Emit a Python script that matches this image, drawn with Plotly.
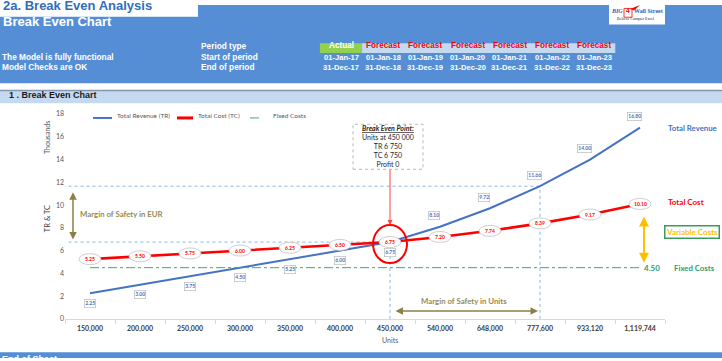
import plotly.graph_objects as go

# ---------------- data ----------------
units = ["150,000", "200,000", "250,000", "300,000", "350,000", "400,000",
         "450,000", "540,000", "648,000", "777,600", "933,120", "1,119,744"]
total_revenue = [2.25, 3.00, 3.75, 4.50, 5.25, 6.00, 6.75, 8.10, 9.72, 11.66, 14.00, 16.80]
total_cost = [5.25, 5.50, 5.75, 6.00, 6.25, 6.50, 6.75, 7.20, 7.74, 8.39, 9.17, 10.10]
fixed_costs = [4.50, 4.50, 4.50, 4.50, 4.50, 4.50, 4.50, 4.50, 4.50, 4.50, 4.50, 4.50]
y_ticks = [0, 2, 4, 6, 8, 10, 12, 14, 16, 18]
break_even_index = 6
safety_index = 9
break_even_lines = ["Units at 450 000", "TR 6 750", "TC 6 750", "Profit 0"]

period_types = ["Actual", "Forecast", "Forecast", "Forecast", "Forecast", "Forecast", "Forecast"]
start_dates = ["01-Jan-17", "01-Jan-18", "01-Jan-19", "01-Jan-20", "01-Jan-21", "01-Jan-22", "01-Jan-23"]
end_dates = ["31-Dec-17", "31-Dec-18", "31-Dec-19", "31-Dec-20", "31-Dec-21", "31-Dec-22", "31-Dec-23"]

# ---------------- styles ----------------
W, H = 722, 361
X_L, X_R = 65, 665
Y_T, Y_B = 111.5, 321
HEADER_BLUE = "#558ED5"
BLUE = "#4472C4"
RED = "#FF0000"
GREEN = "#2E9E6A"
OLIVE = "#948A54"
GOLD = "#FFC000"
REF_BLUE = "#8DB4E2"
CF = "Lato"
AF = "Liberation Sans"
TDY = 2.5  # visual correction for horizontally written text


def PX(x):
    return x / W


def PY(y):
    return 1 - y / H


def PT(y, d=TDY):
    return PY(y - d)


fig = go.Figure()
fig.add_trace(go.Scatter(x=units, y=total_revenue, mode="lines", name="Total Revenue (TR)",
                         line=dict(color=BLUE, width=2)))
fig.add_trace(go.Scatter(x=units, y=total_cost, mode="lines", name="Total Cost (TC)",
                         line=dict(color=RED, width=2.6)))
fig.add_trace(go.Scatter(x=units, y=fixed_costs, mode="lines", name="Fixed Costs",
                         line=dict(color="#3BAA7E", width=1, dash="dashdot")))

shapes = []
ann = []

# ---------- header background ----------
shapes.append(dict(type="rect", xref="paper", yref="paper", x0=0, x1=1, y0=PY(80), y1=1,
                   fillcolor=HEADER_BLUE, line_width=0, layer="below"))
shapes.append(dict(type="rect", xref="paper", yref="paper", x0=0, x1=PX(198), y0=PY(12), y1=1,
                   fillcolor="white", line_width=0, layer="below"))
shapes.append(dict(type="rect", xref="paper", yref="paper", x0=0, x1=1, y0=PY(100.5), y1=PY(87.5),
                   fillcolor="#C5D9F1", line_width=0, layer="below"))
shapes.append(dict(type="line", xref="paper", yref="paper", x0=0, x1=1, y0=PY(87.5), y1=PY(87.5),
                   line=dict(color="#8497B0", width=1.5), layer="below"))
shapes.append(dict(type="rect", xref="paper", yref="paper", x0=0, x1=1, y0=0, y1=PY(355),
                   fillcolor=HEADER_BLUE, line_width=0, layer="below"))

ann.append(dict(text="<b>2a. Break Even Analysis</b>", x=PX(1), y=PT(3.5), xanchor="left", yanchor="middle",
                font=dict(family=AF, size=13, color="#2F6EBA")))
ann.append(dict(text="<b>Break Even Chart</b>", x=PX(1), y=PT(19.5), xanchor="left", yanchor="middle",
                font=dict(family=AF, size=13, color="white")))
for txt, yy in [("The Model is fully functional", 54.5), ("Model Checks are OK", 65.3)]:
    ann.append(dict(text="<b>%s</b>" % txt, x=PX(0), y=PT(yy, 1.5), xanchor="left", yanchor="middle",
                    font=dict(family=AF, size=8.3, color="white")))
for txt, yy in [("Period type", 44.3), ("Start of period", 54.5), ("End of period", 65.3)]:
    ann.append(dict(text="<b>%s</b>" % txt, x=PX(199), y=PT(yy, 1.5 if yy > 50 else TDY),
                    xanchor="left", yanchor="middle", font=dict(family=AF, size=8.3, color="white")))

COL0, COLW = 341, 42.2
shapes.append(dict(type="rect", xref="paper", yref="paper", x0=PX(COL0 - COLW / 2), x1=PX(COL0 + COLW / 2),
                   y0=PY(49.2), y1=PY(39), fillcolor="#92D050", line_width=0, layer="below"))
shapes.append(dict(type="rect", xref="paper", yref="paper", x0=PX(COL0 + COLW / 2),
                   x1=PX(COL0 + COLW * (len(period_types) - 0.5)),
                   y0=PY(49.2), y1=PY(39), fillcolor="#C5D9F1", line_width=0, layer="below"))
for k, (p, s, e) in enumerate(zip(period_types, start_dates, end_dates)):
    cx = COL0 + COLW * k
    ann.append(dict(text="<b>%s</b>" % p, x=PX(cx), y=PT(44.3), xanchor="center", yanchor="middle",
                    font=dict(family=AF, size=8.2, color="white" if p == "Actual" else RED)))
    ann.append(dict(text="<b>%s</b>" % s, x=PX(cx), y=PT(54.8, 1.5), xanchor="center", yanchor="middle",
                    font=dict(family=AF, size=7.6, color="white")))
    ann.append(dict(text="<b>%s</b>" % e, x=PX(cx), y=PT(65.3, 1.5), xanchor="center", yanchor="middle",
                    font=dict(family=AF, size=7.6, color="white")))

# logo
shapes.append(dict(type="rect", xref="paper", yref="paper", x0=PX(609), x1=PX(665), y0=PY(20), y1=1,
                   fillcolor="white", line_width=0, layer="below"))
shapes.append(dict(type="rect", xref="paper", yref="paper", x0=PX(624), x1=PX(632), y0=PY(12.5), y1=PY(3.5),
                   fillcolor="white", line=dict(color=RED, width=0.8), layer="below"))
shapes.append(dict(type="path", xref="paper", yref="paper", layer="above",
                   path="M %f,%f L %f,%f L %f,%f Z" % (PX(630), PY(4), PX(640), PY(0), PX(634), PY(5.5)),
                   fillcolor=RED, line_width=0))
ann.append(dict(text="<b><i>BIG</i></b>", x=PX(617), y=PT(8.5), xanchor="center", yanchor="middle",
                font=dict(family="Liberation Serif", size=6, color="#2F5DB8")))
ann.append(dict(text="<b>4</b>", x=PX(628), y=PT(8.5), xanchor="center", yanchor="middle",
                font=dict(family=AF, size=6.5, color=RED)))
ann.append(dict(text="<b>Wall Street</b>", x=PX(648), y=PT(8.5), xanchor="center", yanchor="middle",
                font=dict(family="Liberation Serif", size=6, color="#2F5DB8")))
ann.append(dict(text="Believe Conquer Excel", x=PX(636), y=PT(16.5), xanchor="center", yanchor="middle",
                font=dict(family="Liberation Serif", size=4, color="#222222")))

ann.append(dict(text="<b>1 . Break Even Chart</b>", x=PX(7), y=PT(94.5), xanchor="left", yanchor="middle",
                font=dict(family=AF, size=9, color="#1A1A1A")))
ann.append(dict(text="<b>End of Sheet</b>", x=PX(0), y=PY(354.5), xanchor="left", yanchor="top",
                font=dict(family=AF, size=9, color="white")))

# ---------- custom legend ----------
legend_items = [("Total Revenue (TR)", BLUE, 2, "solid", 93, 112),
                ("Total Cost (TC)", RED, 3, "solid", 177, 193),
                ("Fixed Costs", "#3BAA7E", 1, "dash", 250, 268)]
for name, col, wdt, dash, x0, x1 in legend_items:
    shapes.append(dict(type="line", xref="paper", yref="paper", x0=PX(x0), x1=PX(x1), y0=PY(115.5), y1=PY(115.5),
                       line=dict(color=col, width=wdt, dash=dash)))
    ann.append(dict(text=name, x=PX(x1 + 3), y=PT(115.5), xanchor="left", yanchor="middle",
                    font=dict(family=CF, size=6.5, color="#595959")))

# ---------- axis titles ----------
ann.append(dict(text="Thousands", x=PX(47), y=PY(136), xanchor="center", yanchor="middle", textangle=-90,
                font=dict(family=CF, size=7, color="#595959")))
ann.append(dict(text="TR &amp; TC", x=PX(47), y=PY(219), xanchor="center", yanchor="middle", textangle=-90,
                font=dict(family=CF, size=7.5, color="#404040")))
ann.append(dict(text="Units", x=PX(390), y=PY(342.5), xanchor="center", yanchor="middle",
                font=dict(family=CF, size=7, color="#595959")))

# ---------- reference lines ----------
be_val = total_cost[break_even_index]
ms_val = total_revenue[safety_index]
ref_line = dict(color=REF_BLUE, width=1, dash="dot")
shapes.append(dict(type="line", xref="x", yref="y", x0=-0.55, x1=safety_index, y0=ms_val, y1=ms_val,
                   line=ref_line, layer="below"))
shapes.append(dict(type="line", xref="x", yref="y", x0=-0.55, x1=break_even_index, y0=be_val, y1=be_val,
                   line=ref_line, layer="below"))
shapes.append(dict(type="line", xref="x", yref="y", x0=break_even_index, x1=break_even_index, y0=0, y1=be_val,
                   line=ref_line, layer="below"))
shapes.append(dict(type="line", xref="x", yref="y", x0=safety_index, x1=safety_index, y0=0, y1=ms_val,
                   line=ref_line, layer="below"))

# ---------- data labels ----------
for i, v in enumerate(total_cost):
    shapes.append(dict(type="circle", xref="x", yref="y", xsizemode="pixel", ysizemode="pixel",
                       xanchor=i, yanchor=v, x0=-11, x1=11, y0=-5.5, y1=5.5,
                       fillcolor="white", line=dict(color="#BFBFBF", width=0.75), layer="above"))
    ann.append(dict(text="<b>%.2f</b>" % v, x=i, y=v, xref="x", yref="y", showarrow=False,
                    font=dict(family=CF, size=5, color=RED)))

for i, v in enumerate(total_revenue):
    below = i <= break_even_index
    ann.append(dict(text="<b>%.2f</b>" % v, x=i, y=v, xref="x", yref="y", showarrow=False,
                    xshift=0 if below else -6, yshift=-10 if below else 11,
                    bgcolor="white", bordercolor="#BFBFBF", borderwidth=0.75, borderpad=0.5,
                    font=dict(family=CF, size=5, color=BLUE)))

# break-even circle
shapes.append(dict(type="circle", xref="x", yref="y", xsizemode="pixel", ysizemode="pixel",
                   xanchor=break_even_index, yanchor=be_val, x0=-17, x1=17, y0=-21, y1=17,
                   line=dict(color=RED, width=2), layer="above"))

# break-even callout box
shapes.append(dict(type="rect", xref="paper", yref="paper", x0=PX(353), x1=PX(423), y0=PY(168), y1=PY(122),
                   fillcolor="white", line=dict(color="#A6A6A6", width=0.8, dash="dot")))
ann.append(dict(text="<b><i><u>Break Even Point:</u></i></b><br>" + "<br>".join(break_even_lines),
                x=PX(388), y=PY(144.5), xanchor="center", yanchor="middle", align="center",
                font=dict(family=CF, size=7, color="#262626")))
ann.append(dict(text="", x=break_even_index, y=be_val, xref="x", yref="y", ax=0, ay=-74,
                showarrow=True, arrowhead=2, arrowsize=1, arrowwidth=1, arrowcolor="#FF4040", standoff=17))

# margin of safety arrows
ann.append(dict(text="", x=0, y=ms_val, xref="x", yref="y", ax=0, ay=be_val, axref="x", ayref="y",
                xshift=-17, showarrow=True, arrowside="end+start", arrowhead=2, startarrowhead=2,
                arrowsize=1, startarrowsize=1, arrowwidth=1.5, arrowcolor="#8C8049", standoff=6, startstandoff=1))
ann.append(dict(text="<b>Margin of Safety in EUR</b>", x=0, y=(ms_val + be_val) / 2, xref="x", yref="y",
                xanchor="left", xshift=-12, showarrow=False, font=dict(family=CF, size=7.8, color=OLIVE)))
ann.append(dict(text="", x=safety_index, y=0, xref="x", yref="y", ax=break_even_index, ay=0,
                axref="x", ayref="y", yshift=8, showarrow=True, arrowside="end+start", arrowhead=2,
                startarrowhead=2, arrowsize=1, startarrowsize=1, arrowwidth=1.5, arrowcolor="#8C8049",
                standoff=2, startstandoff=4))
ann.append(dict(text="<b>Margin of Safety in Units</b>", x=(break_even_index + safety_index) / 2, y=0,
                xref="x", yref="y", yshift=18, xshift=-1, showarrow=False,
                font=dict(family=CF, size=7.8, color=OLIVE)))

# variable cost arrow
last = len(units) - 1
ann.append(dict(text="", x=last, y=fixed_costs[last], xref="x", yref="y", ax=last, ay=total_cost[last],
                axref="x", ayref="y", xshift=4, showarrow=True, arrowside="end+start", arrowhead=2,
                startarrowhead=2, arrowsize=1, startarrowsize=1, arrowwidth=2, arrowcolor=GOLD,
                standoff=5, startstandoff=11))

# right-side labels
ann.append(dict(text="<b>Total Revenue</b>", x=last, y=total_revenue[last], xref="x", yref="y",
                xanchor="left", xshift=26, showarrow=False, font=dict(family=CF, size=7.8, color=BLUE)))
ann.append(dict(text="<b>Total Cost</b>", x=last, y=total_cost[last], xref="x", yref="y",
                xanchor="left", xshift=26, yshift=2, showarrow=False, font=dict(family=CF, size=8, color=RED)))
ann.append(dict(text="<b>Variable Costs</b>", x=PX(664), y=PY(232.5), xanchor="left", yanchor="middle",
                bgcolor="white", bordercolor="#3C9A5F", borderwidth=1.5, borderpad=0.5, showarrow=False,
                font=dict(family=CF, size=8, color=GOLD)))
ann.append(dict(text="<b>%.2f</b>" % fixed_costs[last], x=last, y=fixed_costs[last], xref="x", yref="y",
                xshift=12, showarrow=False, font=dict(family=CF, size=8, color=GREEN)))
ann.append(dict(text="<b>Fixed Costs</b>", x=last, y=fixed_costs[last], xref="x", yref="y",
                xanchor="left", xshift=32, showarrow=False, font=dict(family=CF, size=7.8, color=GREEN)))

for a in ann:
    a.setdefault("xref", "paper")
    a.setdefault("yref", "paper")
    a.setdefault("showarrow", False)

fig.update_layout(
    width=W, height=H, margin=dict(l=0, r=0, t=0, b=0),
    paper_bgcolor="white", plot_bgcolor="rgba(0,0,0,0)",
    showlegend=False,
    shapes=shapes, annotations=ann,
    xaxis=dict(domain=[X_L / W, X_R / W], type="category", range=[-0.5, len(units) - 0.5],
               showline=True, linecolor="#D9D9D9", linewidth=1, ticks="outside", tickson="boundaries",
               ticklen=4, tickcolor="#D9D9D9", showgrid=False, zeroline=False, ticklabelstandoff=3,
               tickfont=dict(family=CF, size=7, color="#404040", weight="bold")),
    yaxis=dict(domain=[1 - Y_B / H, 1 - Y_T / H], range=[0, 18], tickvals=y_ticks,
               showgrid=False, zeroline=False, showline=False, ticks="",
               tickfont=dict(family=CF, size=7, color="#595959")),
)

fig.write_html("out.html", config={"displayModeBar": False},
               post_script="document.body.style.margin='0';document.body.style.overflow='hidden';")
